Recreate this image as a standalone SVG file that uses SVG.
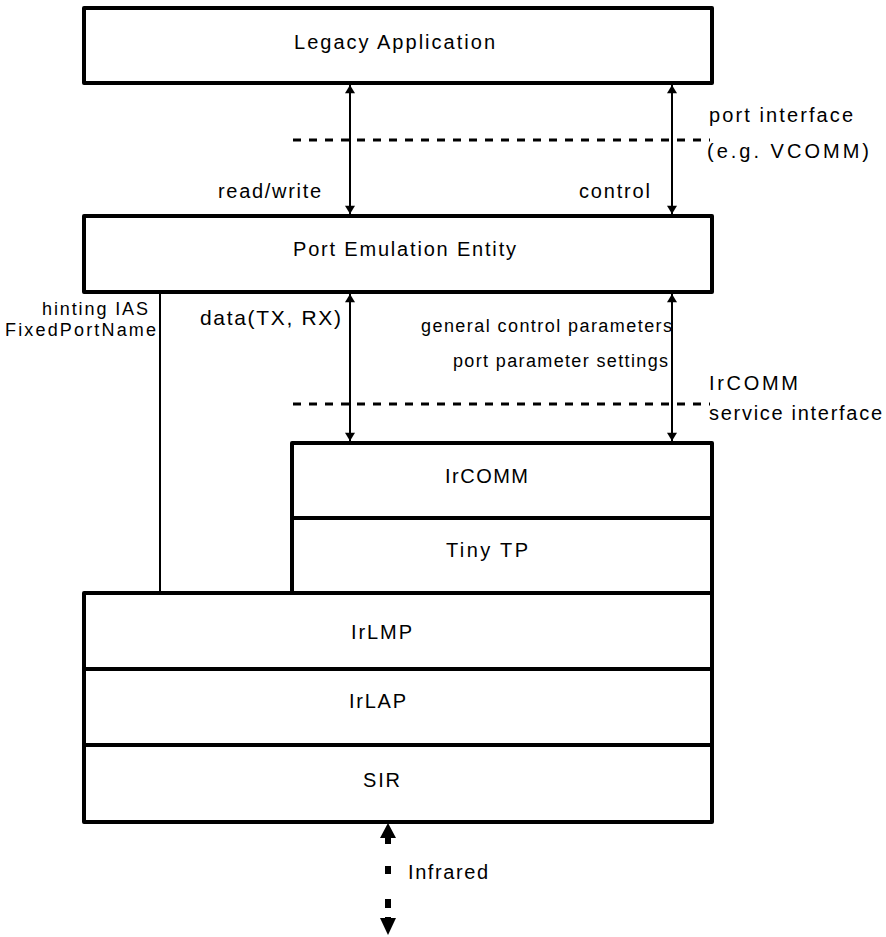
<svg xmlns="http://www.w3.org/2000/svg" width="886" height="937" viewBox="0 0 886 937">
<defs>
<marker id="ah" viewBox="0 0 10 12" refX="10" refY="6" markerWidth="11" markerHeight="10" markerUnits="userSpaceOnUse" orient="auto-start-reverse">
<path d="M0,0 L10,6 L0,12 Z" fill="#000"/>
</marker>
</defs>
<style>
.box{fill:#fff;stroke:#000;stroke-width:4;stroke-linejoin:round}
text{font-family:"Liberation Sans",Arial,Helvetica,sans-serif;font-size:20px;fill:#000}
.s{font-size:18px}
.d{font-size:21px}
.arr{stroke:#000;stroke-width:2;fill:none;marker-start:url(#ah);marker-end:url(#ah)}
.dash{stroke:#000;stroke-width:3;stroke-dasharray:8 8;fill:none}
.ln{stroke:#000;stroke-width:2;fill:none}
</style>
<g id="connectors">
<line class="arr" x1="350" y1="85" x2="350" y2="214"/>
<line class="arr" x1="672" y1="85" x2="672" y2="214"/>
<line class="arr" x1="350" y1="294" x2="350" y2="441"/>
<line class="arr" x1="672" y1="294" x2="672" y2="441"/>
<line class="dash" x1="293" y1="140" x2="710" y2="140"/>
<line class="dash" x1="293" y1="404" x2="710" y2="404"/>
<line class="ln" x1="160" y1="292" x2="160" y2="593"/>
<polygon points="388,823 380,838 396,838" fill="#000"/>
<line x1="388" y1="838" x2="388" y2="918" stroke="#000" stroke-width="6" stroke-dasharray="6 22 8 25 9 9"/>
<polygon points="380,918 396,918 388,935" fill="#000"/>
</g>
<g id="legacy"><rect class="box" x="84" y="8" width="628" height="75"/><text x="294" y="49" textLength="201" lengthAdjust="spacing">Legacy Application</text></g>
<g id="port-emulation"><rect class="box" x="84" y="216" width="628" height="76"/><text x="293" y="256" textLength="223" lengthAdjust="spacing">Port Emulation Entity</text></g>
<g id="ircomm"><rect class="box" x="292" y="443" width="420" height="75"/><text x="445" y="483" textLength="83" lengthAdjust="spacing">IrCOMM</text></g>
<g id="tinytp"><rect class="box" x="292" y="518" width="420" height="75"/><text x="446" y="557" textLength="82" lengthAdjust="spacing">Tiny TP</text></g>
<g id="irlmp"><rect class="box" x="84" y="593" width="628" height="76"/><text x="351" y="639" textLength="61" lengthAdjust="spacing">IrLMP</text></g>
<g id="irlap"><rect class="box" x="84" y="669" width="628" height="76"/><text x="349" y="708" textLength="57" lengthAdjust="spacing">IrLAP</text></g>
<g id="sir"><rect class="box" x="84" y="745" width="628" height="77"/><text x="363" y="787" textLength="37" lengthAdjust="spacing">SIR</text></g>
<g id="labels">
<text x="709" y="122" textLength="144" lengthAdjust="spacing">port interface</text>
<text x="707" y="158" textLength="162" lengthAdjust="spacing">(e.g. VCOMM)</text>
<text x="218" y="198" textLength="103" lengthAdjust="spacing">read/write</text>
<text x="579" y="198" textLength="71" lengthAdjust="spacing">control</text>
<text class="s" x="42" y="315" textLength="106" lengthAdjust="spacing">hinting IAS</text>
<text class="s" x="5" y="336" textLength="151" lengthAdjust="spacing">FixedPortName</text>
<text class="d" x="200" y="325" textLength="141" lengthAdjust="spacing">data(TX, RX)</text>
<text class="s" x="421" y="332" textLength="251" lengthAdjust="spacing">general control parameters</text>
<text class="s" x="453" y="367" textLength="215" lengthAdjust="spacing">port parameter settings</text>
<text x="709" y="390" textLength="89" lengthAdjust="spacing">IrCOMM</text>
<text x="709" y="420" textLength="173" lengthAdjust="spacing">service interface</text>
<text x="408" y="879" textLength="80" lengthAdjust="spacing">Infrared</text>
</g>
</svg>
